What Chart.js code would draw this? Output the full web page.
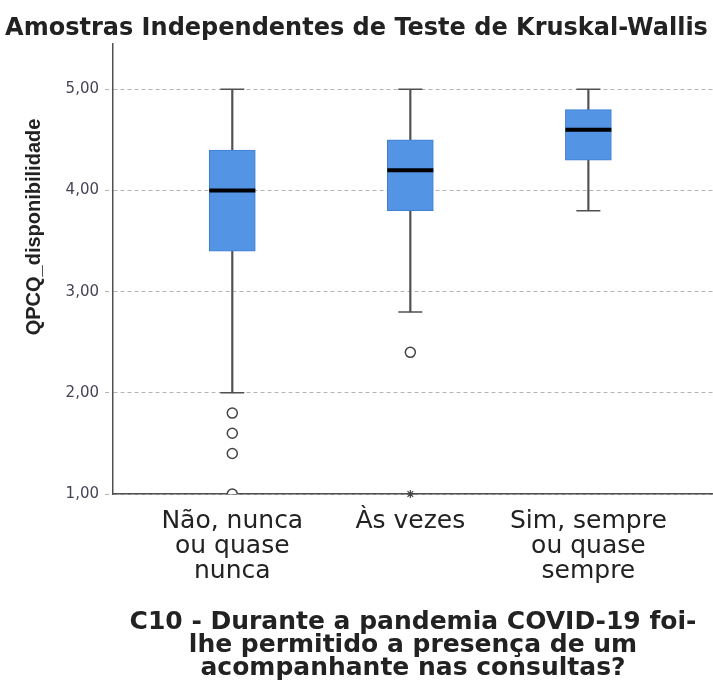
<!DOCTYPE html>
<html>
<head>
<meta charset="utf-8">
<script src="https://cdn.jsdelivr.net/npm/chart.js@4.4.0/dist/chart.umd.min.js"></script>
<style>
  html, body { margin: 0; padding: 0; background: #fff; }
  #wrap { width: 713px; height: 686px; }
</style>
</head>
<body>
<div id="wrap"><canvas id="boxChart"></canvas></div>
<script>
// categories and box statistics
const categories = [['Não, nunca', 'ou quase', 'nunca'], ['Às vezes'], ['Sim, sempre', 'ou quase', 'sempre']];
const xPos = [1, 2, 3];
const whiskerLow = [2.0, 2.8, 3.8];
const q1 = [3.4, 3.8, 4.3];
const median = [4.0, 4.2, 4.6];
const q3 = [4.4, 4.5, 4.8];
const whiskerHigh = [5.0, 5.0, 5.0];
const outlierX = [1, 1, 1, 1, 2];
const outlierY = [1.8, 1.6, 1.4, 1.0, 2.4];
const extremeX = [2];
const extremeY = [1.0];
const yTicks = [1, 2, 3, 4, 5];

const boxBlue = '#5394e4';
const lineGray = '#505050';

// rotated y title, placed like the SPSS output (not centred on the plot)
const yTitle = {
    id: 'yTitle',
    afterDraw(chart) {
        const ctx = chart.ctx;
        ctx.save();
        ctx.translate(34, 227);
        ctx.rotate(-Math.PI / 2);
        ctx.font = 'bold 20px "Liberation Sans", Arial, sans-serif';
        ctx.fillStyle = '#222';
        ctx.textAlign = 'center';
        ctx.textBaseline = 'middle';
        ctx.fillText('QPCQ_disponibilidade', 0, 0);
        ctx.restore();
    }
};

const pts = (xs, ys) => xs.map((x, i) => ({ x: x, y: ys[i] }));

const ctx = document.getElementById('boxChart').getContext('2d');
new Chart(ctx, {
    type: 'bar',
    data: {
        datasets: [
            {
                label: 'whisker low',
                data: xPos.map((x, i) => ({ x: x, y: [whiskerLow[i], q1[i]] })),
                backgroundColor: lineGray,
                barThickness: 1.5,
                grouped: false,
                order: 4
            },
            {
                label: 'whisker high',
                data: xPos.map((x, i) => ({ x: x, y: [q3[i], whiskerHigh[i]] })),
                backgroundColor: lineGray,
                barThickness: 1.5,
                grouped: false,
                order: 4
            },
            {
                label: 'box',
                data: xPos.map((x, i) => ({ x: x, y: [q1[i], q3[i]] })),
                backgroundColor: boxBlue,
                borderColor: '#3f7fd0',
                borderWidth: 1,
                borderSkipped: false,
                barThickness: 46,
                grouped: false,
                order: 3
            },
            {
                type: 'scatter',
                label: 'caps',
                data: pts(xPos, whiskerLow).concat(pts(xPos, whiskerHigh)),
                pointStyle: 'line',
                pointRadius: 12,
                pointBorderWidth: 1.5,
                pointBorderColor: lineGray,
                order: 2
            },
            {
                type: 'scatter',
                label: 'median',
                data: pts(xPos, median),
                pointStyle: 'line',
                pointRadius: 23,
                pointBorderWidth: 4,
                pointBorderColor: '#000',
                order: 1
            },
            {
                type: 'scatter',
                label: 'outliers',
                data: pts(outlierX, outlierY),
                pointStyle: 'circle',
                pointRadius: 5,
                pointBorderWidth: 1.5,
                pointBorderColor: '#444',
                pointBackgroundColor: '#fff',
                clip: 0,
                order: 1
            },
            {
                type: 'scatter',
                label: 'extremes',
                data: pts(extremeX, extremeY),
                pointStyle: 'star',
                pointRadius: 4,
                pointBorderWidth: 1.2,
                pointBorderColor: '#444',
                clip: false,
                order: 1
            }
        ]
    },
    options: {
        responsive: true,
        maintainAspectRatio: false,
        animation: false,
        events: [],
        layout: { autoPadding: false, padding: 0 },
        plugins: {
            legend: { display: false },
            tooltip: { enabled: false },
            title: {
                display: true,
                text: 'Amostras Independentes de Teste de Kruskal-Wallis',
                color: '#222',
                font: { family: 'DejaVu Sans', size: 24, weight: 'bold' },
                padding: { top: 14, bottom: 1 }
            }
        },
        scales: {
            x: {
                type: 'linear',
                min: 0.33,
                max: 3.7,
                offset: false,
                afterBuildTicks: (s) => { s.ticks = xPos.map(v => ({ value: v })); },
                afterFit: (s) => {
                    s.height = 192;
                    s.paddingLeft = 0;
                    s.paddingRight = 0;
                },
                grid: { display: false, offset: false },
                border: { display: true, color: lineGray, width: 1.5 },
                ticks: {
                    autoSkip: false,
                    maxRotation: 0,
                    padding: 7,
                    color: '#222',
                    font: { family: 'DejaVu Sans', size: 25, lineHeight: '25px' },
                    callback: (v) => categories[xPos.indexOf(v)]
                },
                title: {
                    display: true,
                    text: ['C10 - Durante a pandemia COVID-19 foi-', 'lhe permitido a presença de um', 'acompanhante nas consultas?'],
                    color: '#222',
                    font: { family: 'DejaVu Sans', size: 25, weight: 'bold', lineHeight: '23px' },
                    padding: { top: 0, bottom: 6 }
                }
            },
            y: {
                min: 1,
                max: 5.45,
                afterBuildTicks: (s) => { s.ticks = yTicks.map(v => ({ value: v })); },
                afterFit: (s) => {
                    s.width = 113;
                    s.paddingTop = 0;
                    s.paddingBottom = 0;
                },
                grid: {
                    color: '#b4b4b4',
                    lineWidth: 1,
                    drawTicks: true,
                    tickLength: 8,
                    tickColor: '#b4b4b4',
                    tickBorderDash: [4, 3]
                },
                border: { display: true, color: lineGray, width: 1.5, dash: [4, 3] },
                ticks: {
                    padding: 6,
                    color: '#444455',
                    font: { family: 'DejaVu Sans', size: 15 },
                    callback: (v) => v.toFixed(2).replace('.', ',')
                }
            }
        }
    },
    plugins: [yTitle]
});
</script>
</body>
</html>
